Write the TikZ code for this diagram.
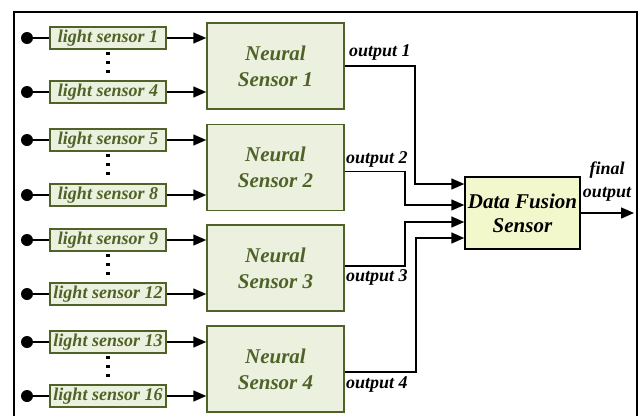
\documentclass[tikz,border=0pt]{standalone}
\usepackage{fontspec}
\setmainfont{Liberation Serif}
\usetikzlibrary{arrows.meta}
\usetikzlibrary{calc}

\definecolor{leafline}{HTML}{4F6228}
\definecolor{leaffill}{HTML}{EBF1DE}
\definecolor{fusfill}{HTML}{F2F8CC}

\begin{document}
\begin{tikzpicture}[x=1pt,y=-1pt,
  sensor/.style={draw=leafline, fill=leaffill, line width=1.5pt, text=leafline,
    minimum width=116pt, minimum height=22pt, inner sep=0pt,
    font=\fontsize{18}{20}\selectfont\bfseries\itshape},
  neural/.style={draw=leafline, fill=leaffill, line width=1.5pt, text=leafline,
    minimum width=137pt, minimum height=86pt, inner sep=0pt, align=center,
    font=\fontsize{21}{26}\selectfont\bfseries\itshape},
  fusion/.style={draw=black, fill=fusfill, line width=1.5pt,
    minimum width=115pt, minimum height=72pt, inner sep=0pt, align=center,
    font=\fontsize{21}{24}\selectfont\bfseries\itshape},
  plug/.style={circle, fill=black, minimum size=12pt, inner sep=0pt},
  link/.style={line width=1.5pt},
  wire/.style={line width=1.5pt, -{Triangle[length=13pt,width=11pt]}},
  lbl/.style={font=\fontsize{18}{23}\selectfont\bfseries\itshape, inner sep=0pt},
  dotline/.style={line width=3.5pt, dash pattern=on 3.5pt off 5.5pt}]
\useasboundingbox (0,0) rectangle (644,415);
% frame
\draw[line width=1.2pt] (14,416) -- (14,12) -- (637,12) -- (637,416);
% light sensors
\node[sensor] (s1) at (108,38) {light sensor 1};
\node[sensor] (s4) at (108,92) {light sensor 4};
\node[sensor] (s5) at (108,140) {light sensor 5};
\node[sensor] (s8) at (108,195) {light sensor 8};
\node[sensor] (s9) at (108,240) {light sensor 9};
\node[sensor] (s12) at (108,294) {light sensor 12};
\node[sensor] (s13) at (108,342) {light sensor 13};
\node[sensor] (s16) at (108,396) {light sensor 16};
% inputs
\node[plug] (p1) at (27,38) {};
\node[plug] (p4) at (27,92) {};
\node[plug] (p5) at (27,140) {};
\node[plug] (p8) at (27,195) {};
\node[plug] (p9) at (27,240) {};
\node[plug] (p12) at (27,294) {};
\node[plug] (p13) at (27,342) {};
\node[plug] (p16) at (27,396) {};
% dots between sensors
\draw[dotline] (s1.south) ++(0,2) -- ++(0,23);
\draw[dotline] (s5.south) ++(0,2) -- ++(0,23);
\draw[dotline] (s9.south) ++(0,2) -- ++(0,23);
\draw[dotline] (s13.south) ++(0,2) -- ++(0,23);
% neural sensors
\node[neural] (n1) at (275.5,66) {Neural\\Sensor 1};
\node[neural] (n2) at (275.5,167.5) {Neural\\Sensor 2};
\node[neural] (n3) at (275.5,268) {Neural\\Sensor 3};
\node[neural] (n4) at (275.5,369) {Neural\\Sensor 4};
% fusion
\node[fusion] (fus) at (522.5,213) {Data Fusion\\Sensor};
\coordinate (f1) at ($(fus.west)+(0,-29)$);
\coordinate (f2) at ($(fus.west)+(0,-8)$);
\coordinate (f3) at ($(fus.west)+(0,9)$);
\coordinate (f4) at ($(fus.west)+(0,25)$);
\coordinate (fo) at (634,213);
% plugs to sensors
\draw[link] (p1) -- (s1);
\draw[link] (p4) -- (s4);
\draw[link] (p5) -- (s5);
\draw[link] (p8) -- (s8);
\draw[link] (p9) -- (s9);
\draw[link] (p12) -- (s12);
\draw[link] (p13) -- (s13);
\draw[link] (p16) -- (s16);
% sensors to neural sensors
\draw[wire] (s1.east) -- (s1.east -| n1.west);
\draw[wire] (s4.east) -- (s4.east -| n1.west);
\draw[wire] (s5.east) -- (s5.east -| n2.west);
\draw[wire] (s8.east) -- (s8.east -| n2.west);
\draw[wire] (s9.east) -- (s9.east -| n3.west);
\draw[wire] (s12.east) -- (s12.east -| n3.west);
\draw[wire] (s13.east) -- (s13.east -| n4.west);
\draw[wire] (s16.east) -- (s16.east -| n4.west);
% outputs to fusion
\draw[wire] (n1.east) -- ++(70,0) |- (f1);
\draw[wire] ($(n2.east)+(0,4)$) -- ++(60,0) |- (f2);
\draw[wire] ($(n3.east)+(0,-2)$) -- ++(60,0) |- (f3);
\draw[wire] ($(n4.east)+(0,3)$) -- ++(71,0) |- (f4);
\draw[wire] (fus.east) -- (fo);
% labels
\node[lbl, anchor=west] (o1) at (349,52) {output 1};
\node[lbl, anchor=west] (o2) at (346,159) {output 2};
\node[lbl, anchor=west] (o3) at (346,277) {output 3};
\node[lbl, anchor=west] (o4) at (346,384) {output 4};
\node[lbl, align=center] (fin) at (607,182) {final\\output};
\end{tikzpicture}
\end{document}
